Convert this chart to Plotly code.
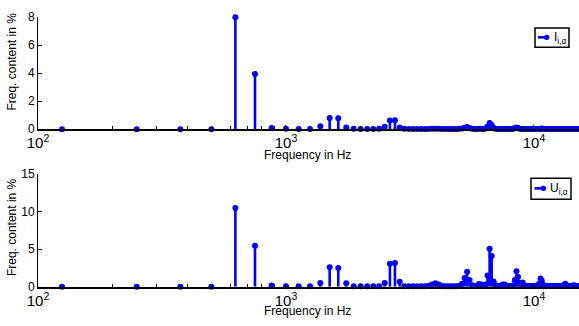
import numpy as np
import plotly.graph_objects as go

# ---- data ----
f_step = 125  # Hz, spacing of spectral lines
harmonic_order = list(range(1, 122))
freq_hz = [f_step * n for n in harmonic_order]

current_pct = [
    0, 0, 0, 0, 8.0, 3.95, 0.08, 0.04, 0.02, 0.02,
    0.22, 0.8, 0.78, 0.12, 0.03, 0.02, 0.02, 0.02, 0.03, 0.18,
    0.62, 0.64, 0.12, 0.03, 0.02, 0.02, 0.02, 0.02, 0.02, 0.02,
    0.03, 0.04, 0.03, 0.02, 0.02, 0.02, 0.02, 0.02, 0.02, 0.03,
    0.05, 0.1, 0.15, 0.08, 0.03, 0.02, 0.02, 0.03, 0.03, 0.02,
    0.06, 0.2, 0.45, 0.3, 0.08, 0.03, 0.02, 0.02, 0.02, 0.02,
    0.02, 0.02, 0.02, 0.02, 0.02, 0.04, 0.08, 0.12, 0.08, 0.03,
    0.02, 0.02, 0.02, 0.02, 0.02, 0.02, 0.02, 0.02, 0.02, 0.02,
    0.02, 0.02, 0.02, 0.02, 0.04, 0.06, 0.03, 0.02, 0.02, 0.02,
    0.02, 0.02, 0.02, 0.02, 0.02, 0.02, 0.02, 0.02, 0.02, 0.02,
    0.02, 0.02, 0.02, 0.02, 0.02, 0.02, 0.02, 0.02, 0.02, 0.02,
    0.02, 0.02, 0.02, 0.02, 0.02, 0.02, 0.02, 0.02, 0.02, 0.02, 0.02,
]

voltage_pct = [
    0, 0, 0, 0, 10.5, 5.45, 0.15, 0.05, 0.05, 0.05,
    0.5, 2.6, 2.5, 0.45, 0.05, 0.05, 0.05, 0.05, 0.05, 0.5,
    3.05, 3.15, 0.65, 0.08, 0.05, 0.05, 0.05, 0.05, 0.08, 0.12,
    0.3, 0.45, 0.3, 0.1, 0.05, 0.05, 0.05, 0.05, 0.05, 0.1,
    0.4, 1.15, 2.0, 0.9, 0.2, 0.1, 0.1, 0.35, 0.3, 0.1,
    0.3, 1.5, 5.05, 4.1, 0.7, 0.2, 0.1, 0.1, 0.15, 0.3,
    0.3, 0.1, 0.1, 0.1, 0.1, 0.2, 0.9, 2.05, 1.3, 0.5,
    0.3, 0.55, 0.2, 0.1, 0.1, 0.1, 0.1, 0.1, 0.1, 0.1,
    0.1, 0.15, 0.2, 0.4, 1.1, 0.8, 0.3, 0.1, 0.1, 0.1,
    0.1, 0.1, 0.1, 0.1, 0.1, 0.1, 0.1, 0.1, 0.1, 0.1,
    0.1, 0.1, 0.1, 0.1, 0.15, 0.25, 0.4, 0.2, 0.1, 0.1,
    0.1, 0.1, 0.1, 0.1, 0.15, 0.2, 0.1, 0.1, 0.1, 0.1, 0.1,
]

y_label = "Freq. content in %"
x_label = "Frequency in Hz"
legend_top = "I<sub>i,α</sub>"
legend_bottom = "U<sub>i,α</sub>"

# ---- style ----
BLUE = "rgb(0,0,255)"
FONT = "Liberation Sans, Arial, Helvetica, sans-serif"
W, H = 579, 326
ML = 38


def px(xp):
    return (xp - ML) / (W - ML)


def py(yp):
    return 1 - yp / H


def stem_xy(xs, ys):
    sx, sy = [], []
    for x, y in zip(xs, ys):
        sx += [x, x, None]
        sy += [0, y, None]
    return sx, sy


fig = go.Figure()
for vals, xa, ya in [(current_pct, "x", "y"), (voltage_pct, "x2", "y2")]:
    sx, sy = stem_xy(freq_hz, vals)
    fig.add_trace(go.Scatter(x=sx, y=sy, mode="lines", xaxis=xa, yaxis=ya,
                             line=dict(color=BLUE, width=2.6), showlegend=False,
                             hoverinfo="skip"))
    fig.add_trace(go.Scatter(x=freq_hz, y=vals, mode="markers", xaxis=xa, yaxis=ya,
                             marker=dict(color=BLUE, size=6, line=dict(width=0)),
                             cliponaxis=False, showlegend=False))

x_range = [2, np.log10(15190)]
axis_common = dict(showline=True, linecolor="black", showgrid=False, zeroline=False,
                   ticks="inside", tickcolor="black",
                   tickfont=dict(family=FONT, size=12, color="black"))

top_dom = [py(127.7), py(10.7)]
bot_dom = [py(292.3), py(174.7)]

fig.update_layout(
    width=W, height=H,
    margin=dict(l=ML, r=0, t=0, b=0),
    paper_bgcolor="white", plot_bgcolor="white",
    showlegend=False,
    xaxis=dict(type="log", range=x_range, domain=[0, 1], anchor="y", dtick=1,
               exponentformat="power", linewidth=1.5, ticklen=4,
               minor=dict(ticks="inside", ticklen=3, tickcolor="black", dtick="D1"),
               **axis_common),
    yaxis=dict(range=[0, 8], domain=top_dom, anchor="x", dtick=2, linewidth=1,
               ticklen=4, **axis_common),
    xaxis2=dict(type="log", range=x_range, domain=[0, 1], anchor="y2", dtick=1,
                exponentformat="power", linewidth=1.5, ticklen=4,
                minor=dict(ticks="inside", ticklen=3, tickcolor="black", dtick="D1"),
                **axis_common),
    yaxis2=dict(range=[0, 15], domain=bot_dom, anchor="x2", dtick=5, linewidth=1,
                ticklen=4, **axis_common),
)

tfont = dict(family=FONT, size=12, color="black")
ann = []
# axis titles
ann.append(dict(text=y_label, x=px(12), y=py(57), xref="paper", yref="paper",
                textangle=-90, showarrow=False, font=tfont, xanchor="center", yanchor="middle"))
ann.append(dict(text=y_label, x=px(12), y=py(230), xref="paper", yref="paper",
                textangle=-90, showarrow=False, font=tfont, xanchor="center", yanchor="middle"))
ann.append(dict(text=x_label, x=px(307), y=py(155), xref="paper", yref="paper",
                showarrow=False, font=tfont, xanchor="center", yanchor="middle"))
ann.append(dict(text=x_label, x=px(307), y=py(318), xref="paper", yref="paper",
                showarrow=False, font=tfont, xanchor="center", yanchor="middle"))

shapes = []


def legend_box(x0, x1, y0, y1, lx0, lx1, ly, text, tx):
    shapes.append(dict(type="rect", xref="paper", yref="paper",
                       x0=px(x0), x1=px(x1), y0=py(y1), y1=py(y0),
                       line=dict(color="black", width=1.5), fillcolor="white"))
    shapes.append(dict(type="line", xref="paper", yref="paper",
                       x0=px(lx0), x1=px(lx1), y0=py(ly), y1=py(ly),
                       line=dict(color=BLUE, width=2.6)))
    r = 2.8
    shapes.append(dict(type="circle", xref="paper", yref="paper",
                       x0=px(lx1 - r), x1=px(lx1 + r), y0=py(ly + r), y1=py(ly - r),
                       line=dict(color=BLUE, width=0), fillcolor=BLUE))
    ann.append(dict(text=text, x=px(tx), y=py(ly + 1), xref="paper", yref="paper",
                    showarrow=False, font=tfont, xanchor="left", yanchor="middle"))


legend_box(535, 569, 22, 42, 538, 546.7, 31.7, legend_top, 552)
legend_box(531, 571, 179, 201, 534.5, 543.3, 189.5, legend_bottom, 548)

fig.update_layout(annotations=ann, shapes=shapes)
fig.write_html("out.html")
